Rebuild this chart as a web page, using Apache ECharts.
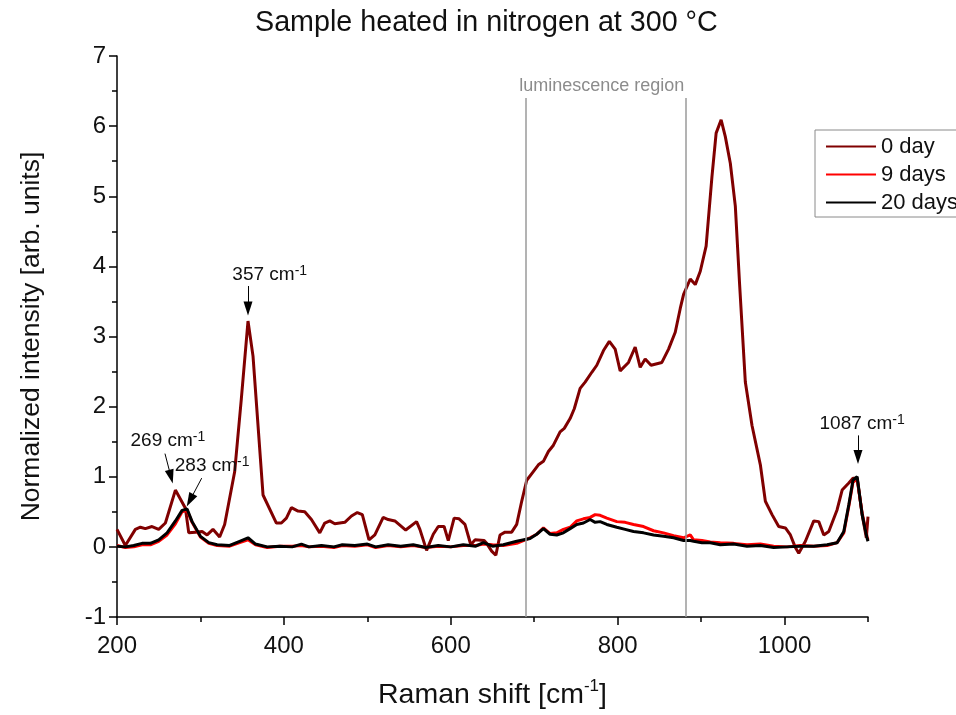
<!DOCTYPE html>
<html><head><meta charset="utf-8">
<script src="https://cdn.jsdelivr.net/npm/echarts@6/dist/echarts.min.js"></script>
<style>html,body{margin:0;padding:0;background:#fff}#c{width:956px;height:715px}</style>
</head><body><div id="c"></div>
<script>
// ---- data ----
const shift0 = [200,210,222,228,234,242,250,258,270,282,286,294,302,308,315,323,329,341,349,357,363,375,391,397,403,409,417,425,433,443,449,455,461,473,481,488,494,502,509,519,525,533,546,559,563,571,579,585,592,597,604,610,617,624,629,640,643,649,654,659,665,673,679,685,691,698,705,711,717,723,731,736,743,748,755,761,769,775,783,790,797,803,813,821,827,833,840,853,861,869,875,879,887,893,899,906,913,918,924,929,935,941,946,953,961,971,977,985,993,1001,1007,1013,1017,1025,1035,1041,1047,1053,1063,1069,1077,1082,1087,1093,1098,1100];
const int0 = [0.25,0.02,0.25,0.28,0.26,0.29,0.25,0.34,0.81,0.55,0.20,0.21,0.22,0.17,0.25,0.14,0.32,1.07,2.11,3.22,2.72,0.74,0.34,0.34,0.41,0.56,0.51,0.50,0.39,0.20,0.34,0.37,0.33,0.35,0.44,0.49,0.46,0.10,0.17,0.42,0.39,0.37,0.24,0.36,0.25,-0.05,0.18,0.29,0.29,0.09,0.41,0.40,0.32,0.03,0.10,0.09,0.05,-0.06,-0.12,0.17,0.21,0.21,0.32,0.65,0.95,1.06,1.17,1.22,1.36,1.45,1.64,1.69,1.83,1.97,2.26,2.35,2.49,2.59,2.80,2.93,2.82,2.51,2.63,2.85,2.56,2.68,2.59,2.63,2.82,3.06,3.40,3.60,3.82,3.74,3.93,4.29,5.28,5.90,6.09,5.85,5.47,4.86,3.77,2.35,1.73,1.17,0.65,0.46,0.29,0.27,0.17,-0.01,-0.09,0.08,0.37,0.36,0.17,0.22,0.53,0.81,0.91,0.98,0.98,0.46,0.13,0.43];

const shiftAged = [200,210,220,230,240,250,260,270,278,284,290,300,310,320,335,347,357,366,380,395,410,421,430,445,460,470,485,500,510,525,540,555,570,585,600,615,630,639,650,663,679,695,703,711,719,727,735,743,751,759,767,773,779,787,799,809,819,831,843,855,867,879,887,891,901,911,923,939,955,971,987,1003,1019,1035,1051,1063,1071,1077,1082,1087,1093,1099,1100];
const int9 = [0.02,-0.01,0.00,0.03,0.03,0.08,0.17,0.33,0.50,0.52,0.35,0.14,0.05,0.02,0.01,0.06,0.10,0.03,-0.01,0.01,0.01,0.02,0.00,0.01,-0.01,0.02,0.01,0.03,-0.01,0.02,0.00,0.02,-0.01,0.01,0.00,0.02,0.02,0.04,0.03,0.02,0.05,0.13,0.18,0.27,0.19,0.20,0.25,0.28,0.37,0.40,0.42,0.46,0.45,0.41,0.36,0.35,0.32,0.29,0.23,0.20,0.16,0.13,0.17,0.10,0.09,0.07,0.06,0.05,0.03,0.04,0.01,0.00,0.02,0.01,0.02,0.06,0.20,0.58,0.92,0.97,0.48,0.14,0.10];
const int20 = [0.01,0.00,0.02,0.05,0.05,0.10,0.20,0.37,0.52,0.54,0.36,0.15,0.06,0.03,0.02,0.08,0.13,0.04,0.00,0.01,0.00,0.04,0.00,0.02,0.00,0.03,0.02,0.04,0.00,0.03,0.01,0.03,-0.01,0.02,0.00,0.03,0.01,0.06,0.01,0.03,0.08,0.12,0.18,0.26,0.18,0.17,0.20,0.26,0.32,0.34,0.39,0.35,0.36,0.32,0.28,0.25,0.22,0.20,0.17,0.15,0.13,0.09,0.09,0.08,0.06,0.06,0.03,0.04,0.01,0.02,-0.01,0.00,0.01,0.01,0.03,0.06,0.22,0.60,0.95,1.00,0.46,0.12,0.08];

const seriesNames = ['0 day', '9 days', '20 days'];
const xRange = [200, 1100];
const yRange = [-1, 7];
const lumRegion = [690, 881];
const peakNames = ['269', '283', '357', '1087'];

// ---- chart ----
const FONT = '"Liberation Sans", Arial, Helvetica, sans-serif';
const pairs = (xs, ys) => xs.map((x, i) => [x, ys[i]]);
const supRich = {
  n: {fontSize: 19, fontFamily: FONT, color: '#111', lineHeight: 20, verticalAlign: 'bottom'},
  s: {fontSize: 14, fontFamily: FONT, color: '#111', lineHeight: 14, verticalAlign: 'top'}
};
function textMark(coord, fmt, rich) {
  return {coord: coord, symbol: 'circle', symbolSize: 0,
    label: {show: true, position: 'top', distance: 0, formatter: fmt, rich: rich}};
}
function arrow(from, to) {
  return [{coord: from, symbol: 'none'},
          {coord: to, symbol: 'triangle', symbolSize: [9, 14],
           lineStyle: {color: '#000', width: 1, type: 'solid'}}];
}
function vline(x) {
  return [{coord: [x, yRange[0]], symbol: 'none'},
          {coord: [x, 6.4], symbol: 'none', lineStyle: {color: '#9a9a9a', width: 1.5, type: 'solid'}}];
}

const chart = echarts.init(document.getElementById('c'), null, {renderer: 'canvas'});
const option = {
  animation: false,
  backgroundColor: '#fff',
  textStyle: {fontFamily: FONT},
  title: {
    text: 'Sample heated in nitrogen at 300 °C',
    left: 255, top: 9, padding: 0,
    textStyle: {fontFamily: FONT, fontSize: 28.7, fontWeight: 'normal', color: '#111'}
  },
  legend: {
    data: seriesNames,
    orient: 'vertical',
    left: 815, top: 130,
    padding: [3, 10, 1, 10],
    itemWidth: 50, itemHeight: 27, itemGap: 1,
    itemStyle: {opacity: 0},
    borderColor: '#8a8a8a', borderWidth: 1, borderRadius: 0,
    textStyle: {fontFamily: FONT, fontSize: 22, color: '#111', lineHeight: 27}
  },
  grid: {left: 117, right: 88, top: 56, bottom: 95, containLabel: false},
  xAxis: [{
    type: 'value', min: xRange[0], max: xRange[1], interval: 200,
    axisLine: {onZero: false, lineStyle: {color: '#000', width: 1.5}},
    axisTick: {show: true, length: 8, lineStyle: {color: '#000', width: 1.5}},
    splitLine: {show: false},
    axisLabel: {fontFamily: FONT, fontSize: 24, color: '#111', margin: 17, showMaxLabel: false,
                formatter: v => String(v)},
    name: '{a|Raman shift [cm}{s|-1}{a|]}',
    nameLocation: 'middle', nameGap: 61,
    nameTextStyle: {rich: {
      a: {fontFamily: FONT, fontSize: 28.5, color: '#111', lineHeight: 32, verticalAlign: 'bottom'},
      s: {fontFamily: FONT, fontSize: 17, color: '#111', lineHeight: 18, verticalAlign: 'top'}
    }}
  }, {
    type: 'value', min: xRange[0], max: xRange[1], interval: 100, position: 'bottom',
    axisLine: {show: false, onZero: false},
    axisTick: {show: true, length: 5, lineStyle: {color: '#000', width: 1.5}},
    axisLabel: {show: false}, splitLine: {show: false}
  }],
  yAxis: {
    type: 'value', min: yRange[0], max: yRange[1], interval: 1,
    axisLine: {show: true, onZero: false, lineStyle: {color: '#000', width: 1.5}},
    axisTick: {show: true, length: 8, lineStyle: {color: '#000', width: 1.5}},
    minorTick: {show: true, splitNumber: 2, length: 5, lineStyle: {color: '#000', width: 1.5}},
    splitLine: {show: false},
    axisLabel: {fontFamily: FONT, fontSize: 24, color: '#111', margin: 11},
    name: 'Normalized intensity [arb. units]',
    nameLocation: 'middle', nameGap: 72,
    nameTextStyle: {fontFamily: FONT, fontSize: 26.5, color: '#111'}
  },
  series: [
    {
      name: seriesNames[0], type: 'line', data: pairs(shift0, int0),
      symbol: 'none', clip: true, z: 3,
      lineStyle: {color: '#800000', width: 3}, itemStyle: {color: '#800000'},
      markLine: {
        silent: true, animation: false, z: 5,
        label: {show: false},
        lineStyle: {color: '#9a9a9a', width: 1.5, type: 'solid'},
        data: [
          vline(lumRegion[0]), vline(lumRegion[1]),
          arrow([357, 3.72], [357, 3.40]),
          arrow([257.5, 1.33], [264.7, 1.00]),
          arrow([301.5, 0.98], [287.5, 0.665]),
          arrow([1088, 1.59], [1088, 1.28])
        ]
      },
      markPoint: {
        silent: true, animation: false,
        data: [
          textMark([383, 3.74], '{n|' + peakNames[2] + ' cm}{s|-1}', supRich),
          textMark([261, 1.38], '{n|' + peakNames[0] + ' cm}{s|-1}', supRich),
          textMark([314, 1.02], '{n|' + peakNames[1] + ' cm}{s|-1}', supRich),
          textMark([1093, 1.62], '{n|' + peakNames[3] + ' cm}{s|-1}', supRich),
          textMark([781, 6.43], '{g|luminescence region}', {g: {fontFamily: FONT, fontSize: 18, color: '#8c8c8c', lineHeight: 20}})
        ]
      }
    },
    {
      name: seriesNames[1], type: 'line', data: pairs(shiftAged, int9),
      symbol: 'none', z: 3,
      lineStyle: {color: '#ff0000', width: 3}, itemStyle: {color: '#ff0000'}
    },
    {
      name: seriesNames[2], type: 'line', data: pairs(shiftAged, int20),
      symbol: 'none', z: 4,
      lineStyle: {color: '#000000', width: 3}, itemStyle: {color: '#000000'}
    }
  ]
};
chart.setOption(option);
</script>
</body></html>
